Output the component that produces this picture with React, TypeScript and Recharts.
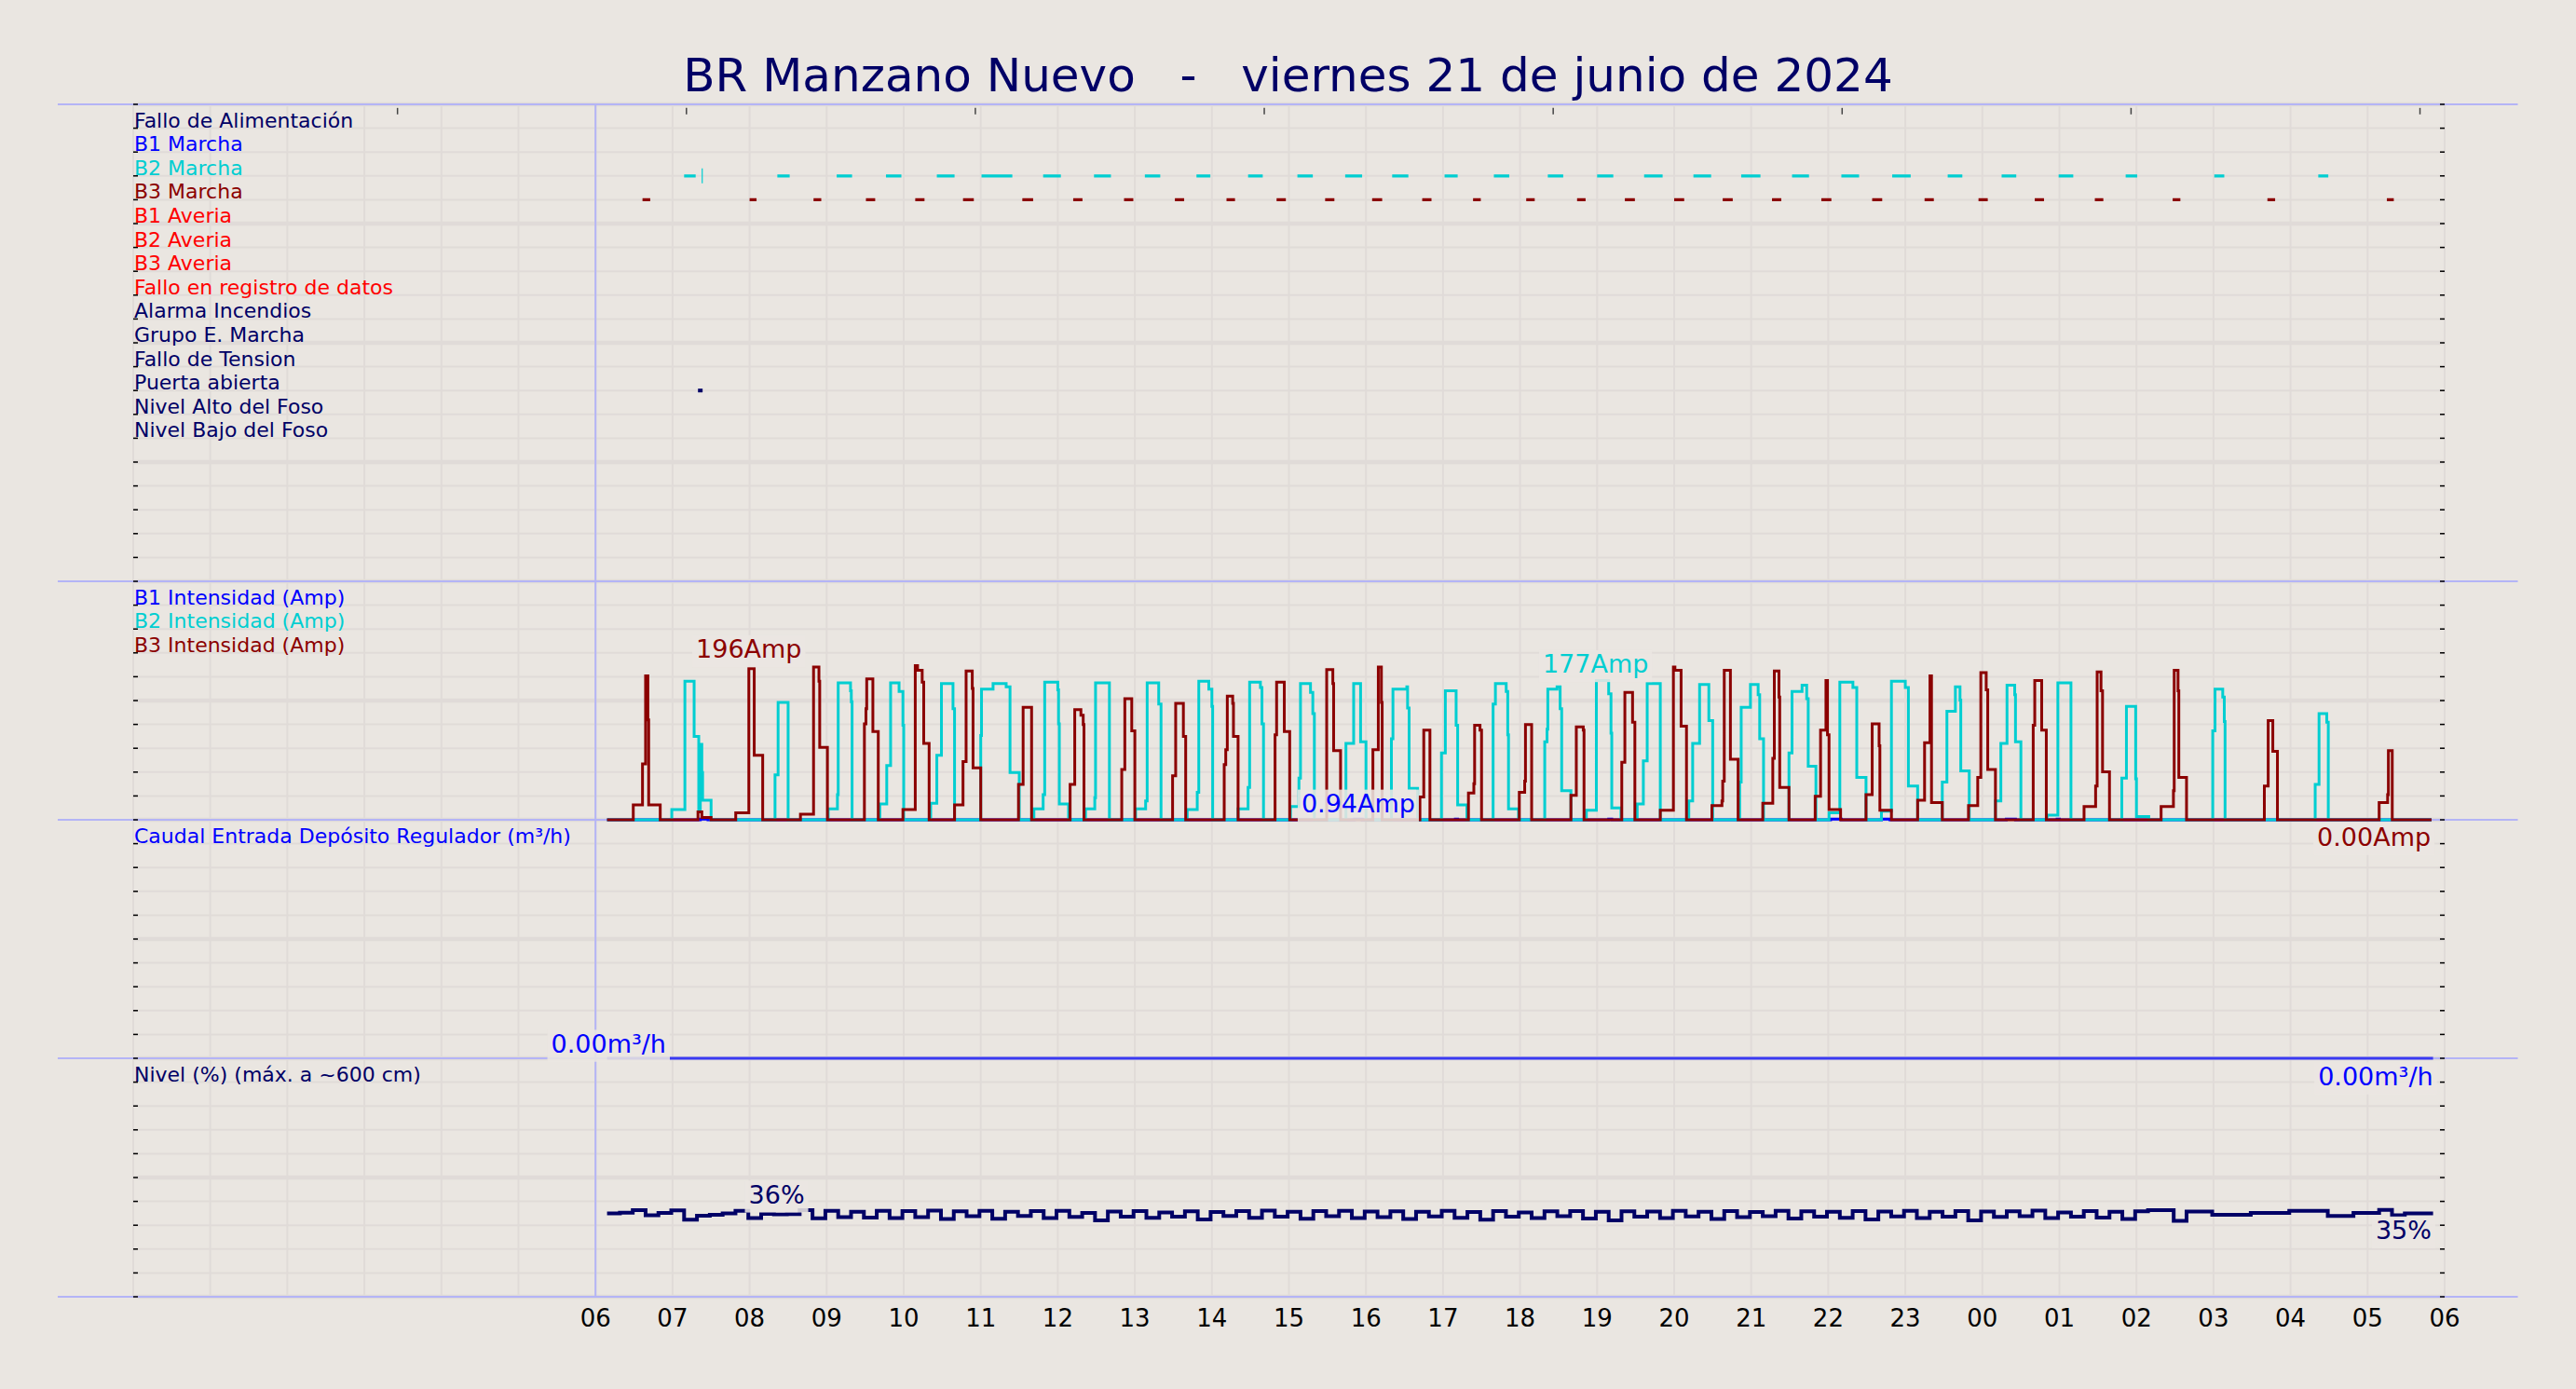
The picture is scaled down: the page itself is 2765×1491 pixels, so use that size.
import React from "react";
import { ComposedChart, Line, XAxis, YAxis, CartesianGrid, ReferenceLine, ReferenceDot } from "recharts";

const W = 2765;
const H = 1491;
const BG = "#eae6e1";
const GRID = "#e0dbd8";
const SEP = "#b4b4f6";
const NAVY = "#000066";
const DARKRED = "#8b0000";
const CYAN = "#00ced1";
const BLUE = "#0000ff";
const RED = "#ff0000";
const FONT = '"DejaVu Sans", sans-serif';

const TITLE = "BR Manzano Nuevo   -   viernes 21 de junio de 2024";

// hours since 00:00 of the day; 30 = 06:00 next day
const hourTicks = [0, 1, 2, 3, 4, 5, 6, 7, 8, 9, 10, 11, 12, 13, 14, 15, 16, 17, 18, 19, 20, 21, 22, 23, 24, 25, 26, 27, 28, 29, 30];
const topTicks = [3.43, 7.18, 10.93, 14.68, 18.43, 22.18, 25.93, 29.68];

const digitalNames = [
  "Fallo de Alimentación",
  "B1 Marcha",
  "B2 Marcha",
  "B3 Marcha",
  "B1 Averia",
  "B2 Averia",
  "B3 Averia",
  "Fallo en registro de datos",
  "Alarma Incendios",
  "Grupo E. Marcha",
  "Fallo de Tension",
  "Puerta abierta",
  "Nivel Alto del Foso",
  "Nivel Bajo del Foso",
];
const digitalColors = [NAVY, BLUE, CYAN, DARKRED, RED, RED, RED, RED, NAVY, NAVY, NAVY, NAVY, NAVY, NAVY];

// on-intervals [start, end] (hours)
const b2Marcha: [number, number][] = [
  [7.15, 7.3], [8.36, 8.52], [9.13, 9.33], [9.77, 9.97], [10.43, 10.66], [11.01, 11.41], [11.81, 12.04],
  [12.47, 12.69], [13.13, 13.33], [13.8, 13.98], [14.47, 14.66], [15.11, 15.31], [15.73, 15.95], [16.34, 16.55],
  [17.02, 17.19], [17.66, 17.86], [18.36, 18.56], [19.0, 19.21], [19.61, 19.85], [20.25, 20.48], [20.87, 21.12],
  [21.53, 21.75], [22.17, 22.4], [22.83, 23.07], [23.55, 23.74], [24.25, 24.44], [24.99, 25.18], [25.86, 26.01],
  [27.01, 27.14], [28.36, 28.49],
];
const b2MarchaBlip = 7.385;
const b3Marcha: [number, number][] = [
  [6.61, 6.71], [8.0, 8.09], [8.83, 8.93], [9.51, 9.63], [10.15, 10.27], [10.77, 10.91], [11.54, 11.68],
  [12.2, 12.32], [12.86, 12.98], [13.52, 13.64], [14.19, 14.3], [14.84, 14.96], [15.47, 15.59], [16.08, 16.21],
  [16.73, 16.85], [17.39, 17.49], [18.08, 18.19], [18.74, 18.85], [19.36, 19.49], [20.0, 20.13], [20.63, 20.76],
  [21.27, 21.39], [21.91, 22.04], [22.57, 22.7], [23.25, 23.37], [23.95, 24.07], [24.68, 24.8], [25.46, 25.57],
  [26.47, 26.57], [27.7, 27.8], [29.25, 29.34],
];
const puertaAbierta: [number, number][] = [[7.33, 7.39]];

const intensityNames = ["B1 Intensidad (Amp)", "B2 Intensidad (Amp)", "B3 Intensidad (Amp)"];

// [hour, amps] step points
const b1Amp: [number, number][] = [
  [6.15, 0], [7.36, 0.9], [7.46, 0], [15.85, 0.94], [15.95, 0], [17.16, 0.9], [17.19, 0], [19.15, 0.9], [19.19, 0],
  [22.03, 0.9], [22.17, 0], [22.69, 0.9], [22.8, 0], [24.31, 0.9], [24.43, 0], [24.97, 0.9], [25.0, 0], [29.83, 0],
];
const b2Amp: [number, number][] = [
  [6.15, 0],
  [6.99, 13], [7.16, 176], [7.28, 106], [7.34, 10], [7.36, 96], [7.38, 60], [7.39, 25], [7.5, 0],
  [8.33, 57], [8.37, 149], [8.5, 0],
  [9.02, 14], [9.14, 32], [9.15, 174], [9.31, 164], [9.32, 150], [9.33, 0],
  [9.69, 20], [9.78, 69], [9.83, 174], [9.94, 163], [9.99, 120], [10.0, 0],
  [10.35, 21], [10.43, 82], [10.49, 173], [10.64, 141], [10.66, 0],
  [11.0, 107], [11.01, 166], [11.16, 173], [11.33, 169], [11.38, 60], [11.5, 0],
  [11.69, 14], [11.81, 32], [11.83, 175], [12.0, 165], [12.01, 122], [12.02, 20], [12.14, 0],
  [12.36, 14], [12.48, 28], [12.49, 174], [12.67, 0],
  [13.01, 14], [13.14, 24], [13.16, 174], [13.31, 147], [13.34, 0],
  [13.68, 13], [13.81, 35], [13.83, 176], [13.96, 166], [14.0, 144], [14.01, 0],
  [14.34, 14], [14.47, 41], [14.49, 175], [14.63, 168], [14.65, 122], [14.67, 0],
  [15.02, 17], [15.13, 53], [15.15, 173], [15.28, 162], [15.31, 135], [15.33, 0],
  [15.74, 97], [15.84, 173], [15.93, 99], [16.0, 0],
  [16.33, 103], [16.35, 166], [16.53, 169], [16.54, 142], [16.56, 40], [16.67, 0],
  [16.98, 85], [17.03, 164], [17.17, 120], [17.19, 19], [17.31, 0],
  [17.65, 147], [17.68, 173], [17.82, 163], [17.84, 108], [17.85, 14], [17.98, 0],
  [18.32, 99], [18.35, 115], [18.36, 166], [18.48, 169], [18.52, 141], [18.54, 37], [18.66, 0],
  [18.86, 12], [18.99, 177], [19.15, 160], [19.18, 110], [19.19, 15], [19.31, 0],
  [19.52, 20], [19.6, 75], [19.65, 173], [19.82, 0],
  [20.19, 24], [20.24, 97], [20.33, 172], [20.45, 126], [20.5, 0],
  [20.85, 48], [20.87, 143], [20.99, 172], [21.09, 159], [21.11, 103], [21.16, 0],
  [21.49, 85], [21.53, 163], [21.66, 171], [21.72, 154], [21.74, 68], [21.84, 0],
  [22.01, 9], [22.15, 175], [22.32, 168], [22.37, 54], [22.49, 0],
  [22.69, 11], [22.82, 176], [23.0, 168], [23.04, 43], [23.16, 0],
  [23.48, 48], [23.54, 138], [23.65, 169], [23.71, 152], [23.72, 62], [23.83, 0],
  [24.17, 24], [24.24, 97], [24.32, 171], [24.42, 159], [24.43, 99], [24.5, 0],
  [24.84, 6], [24.98, 174], [25.15, 0],
  [25.81, 53], [25.87, 144], [25.99, 52], [26.0, 4], [26.16, 0],
  [26.99, 113], [27.02, 166], [27.12, 156], [27.14, 125], [27.15, 0],
  [28.32, 45], [28.37, 135], [28.47, 124], [28.49, 0],
  [29.83, 0],
];
const b3Amp: [number, number][] = [
  [6.15, 0],
  [6.49, 19], [6.61, 71], [6.65, 183], [6.68, 127], [6.69, 19], [6.84, 0],
  [7.33, 10], [7.38, 3], [7.5, 0],
  [7.82, 9], [7.99, 192], [8.06, 82], [8.17, 0],
  [8.66, 7], [8.83, 194], [8.9, 176], [8.91, 92], [9.01, 0],
  [9.49, 122], [9.51, 141], [9.52, 179], [9.6, 112], [9.67, 0],
  [9.99, 13], [10.15, 196], [10.18, 190], [10.24, 175], [10.26, 97], [10.33, 0],
  [10.66, 19], [10.77, 74], [10.81, 189], [10.89, 167], [10.9, 66], [11.0, 0],
  [11.49, 45], [11.55, 143], [11.66, 0],
  [12.16, 45], [12.22, 140], [12.3, 133], [12.33, 121], [12.34, 0],
  [12.83, 64], [12.87, 154], [12.96, 113], [13.0, 0],
  [13.49, 56], [13.53, 148], [13.63, 106], [13.66, 0],
  [14.16, 70], [14.18, 89], [14.2, 157], [14.27, 148], [14.28, 106], [14.34, 0],
  [14.82, 108], [14.84, 175], [14.94, 112], [15.01, 0],
  [15.49, 191], [15.57, 173], [15.58, 88], [15.67, 0],
  [16.09, 89], [16.16, 194], [16.2, 149], [16.21, 0],
  [16.7, 29], [16.75, 114], [16.83, 0],
  [17.33, 34], [17.4, 46], [17.41, 120], [17.48, 114], [17.5, 0],
  [17.99, 35], [18.06, 49], [18.07, 121], [18.15, 0],
  [18.66, 31], [18.73, 118], [18.82, 114], [18.83, 0],
  [19.32, 73], [19.36, 162], [19.46, 124], [19.49, 0],
  [19.82, 12], [19.99, 194], [20.01, 190], [20.09, 119], [20.16, 0],
  [20.49, 18], [20.62, 24], [20.63, 49], [20.65, 190], [20.73, 77], [20.83, 0],
  [21.15, 21], [21.28, 78], [21.3, 189], [21.36, 156], [21.37, 41], [21.49, 0],
  [21.83, 30], [21.9, 114], [21.97, 177], [21.99, 108], [22.01, 13], [22.16, 0],
  [22.49, 32], [22.57, 122], [22.66, 94], [22.67, 12], [22.82, 0],
  [23.16, 25], [23.25, 98], [23.32, 183], [23.34, 22], [23.48, 0],
  [23.82, 18], [23.94, 54], [23.98, 187], [24.05, 165], [24.07, 64], [24.17, 0],
  [24.66, 120], [24.68, 177], [24.77, 114], [24.83, 0],
  [25.32, 17], [25.47, 43], [25.49, 188], [25.54, 164], [25.56, 61], [25.65, 0],
  [26.32, 17], [26.48, 37], [26.49, 190], [26.54, 164], [26.55, 54], [26.65, 0],
  [27.66, 43], [27.71, 126], [27.77, 87], [27.83, 0],
  [29.15, 22], [29.26, 32], [29.27, 88], [29.32, 0],
  [29.83, 0],
];

const caudalName = "Caudal Entrada Depósito Regulador (m³/h)";
const caudal: [number, number][] = [[6.15, 0], [29.85, 0]];

const nivelName = "Nivel (%) (máx. a ~600 cm)";
const nivelStart = 6.15; // first sample, then every 10 min
const nivelPct = [
  35.0, 35.3, 36.3, 34.2, 35.2, 36.2, 32.3, 34.0, 34.4, 35.0, 36.0, 33.0, 34.8, 34.6, 34.7, 36.3, 32.9, 36.0, 33.4,
  35.6, 33.2, 36.0, 33.0, 35.9, 33.4, 36.1, 32.6, 35.8, 33.8,
  36.0, 32.7, 35.6, 33.9, 35.9, 33.0, 36.0, 33.5, 35.2, 32.0,
  35.7, 33.6, 35.9, 33.1, 35.4, 33.6, 35.8, 32.4, 35.5, 33.9,
  35.9, 33.1, 36.1, 33.6, 35.6, 32.7, 35.9, 33.8, 36.0, 33.0,
  35.7, 33.4, 35.8, 32.6, 35.6, 33.7, 36.0, 33.1, 35.5, 32.3,
  35.9, 33.6, 35.4, 33.0, 35.8, 33.8, 35.9, 32.8, 35.6, 32.0,
  35.8, 33.6, 35.7, 33.0, 36.0, 33.7, 35.6, 32.6, 35.9, 33.4,
  35.5, 33.8, 36.0, 32.8, 35.8, 33.6, 35.6, 33.1, 35.9, 32.4,
  35.7, 33.7, 36.0, 33.0, 35.6, 33.6, 35.9, 32.0, 35.7, 33.5,
  35.8, 33.8, 36.1, 33.0, 35.4, 33.6, 35.9, 33.2, 35.6, 32.6,
  35.8, 36.3,
  36.3, 31.8, 35.7, 35.7, 34.4, 34.4, 34.4, 35.2, 35.2, 35.2, 36.0, 36.0, 36.0, 33.9, 33.9, 35.2, 35.2, 36.4, 34.2,
  35.0, 35.0, 35.0,
];
const nivelEnd = 29.85;

// ---- layout: 50 grid rows, panels stacked (rows counted from the top)
const ROWS = 50;
const rowValue = (rowFromTop: number) => ROWS - rowFromTop;
const panelDomain = (bottomRowFromTop: number, perRow: number): [number, number] => {
  const base = ROWS - bottomRowFromTop;
  return [-base * perRow, (ROWS - base) * perRow];
};
const ampDomain = panelDomain(30, 30.3);
const caudalDomain = panelDomain(40, 1);
const nivelDomain = panelDomain(50, 10);
const gridTicks = Array.from({ length: ROWS + 1 }, (_, i) => i);
const thickTicks = [5, 10, 15, 20, 25, 30, 35, 40, 45];
const separatorRows = [0, 20, 30, 40, 50];

const stepPoints = (pairs: [number, number][]) => pairs.map(([t, v]) => ({ t, v }));
const segments = (list: [number, number][], row: number) =>
  list.flatMap(([s, e]) => [
    { t: s, v: rowValue(row) },
    { t: e, v: rowValue(row) },
    { t: e, v: null },
  ]);
const nivelData = [
  ...nivelPct.map((v, i) => ({ t: nivelStart + i / 6, v })),
  { t: nivelEnd, v: nivelPct[nivelPct.length - 1] },
];

let measureCtx: CanvasRenderingContext2D | null = null;
function textWidth(s: string, size: number) {
  if (!measureCtx) measureCtx = document.createElement("canvas").getContext("2d");
  if (!measureCtx) return s.length * size * 0.62;
  measureCtx.font = `${size}px "DejaVu Sans"`;
  return measureCtx.measureText(s).width;
}

type NoteProps = {
  viewBox?: any;
  text: string;
  color: string;
  anchor: "start" | "middle" | "end";
  dx?: number;
  dy: number;
  size: number;
  box?: boolean;
};

function Note({ viewBox, text, color, anchor, dx = 0, dy, size, box }: NoteProps) {
  if (!viewBox) return null;
  const x = viewBox.x + (viewBox.width || 0) / 2 + dx;
  const y = viewBox.y + (viewBox.height || 0) / 2 + dy;
  const w = textWidth(text, size);
  const left = anchor === "middle" ? x - w / 2 : anchor === "end" ? x - w : x;
  return (
    <g>
      {box && (
        <rect x={left - 4} y={y - size * 0.8 - 3} width={w + 8} height={size * 1.05 + 6} fill={BG} fillOpacity={0.88} />
      )}
      <text x={x} y={y} textAnchor={anchor} fill={color} fontSize={size} fontFamily={FONT}>
        {text}
      </text>
    </g>
  );
}

const hourLabel = (h: number) => (h < 6 ? "" : String(h % 24).padStart(2, "0"));

export default function App() {
  const sideLabels = [
    ...digitalNames.map((name, i) => ({ name, color: digitalColors[i], row: i + 1 })),
    ...intensityNames.map((name, i) => ({ name, color: [BLUE, CYAN, DARKRED][i], row: 21 + i })),
    { name: caudalName, color: BLUE, row: 31 },
    { name: nivelName, color: NAVY, row: 41 },
  ];

  const notes = [
    { text: "196Amp", x: 7.99, y: 196, axis: "amp", color: DARKRED, anchor: "middle", dy: -8 },
    { text: "177Amp", x: 18.98, y: 177, axis: "amp", color: CYAN, anchor: "middle", dy: -8 },
    { text: "0.94Amp", x: 15.9, y: 0.94, axis: "amp", color: BLUE, anchor: "middle", dy: -7 },
    { text: "0.00Amp", x: 29.82, y: 0, axis: "amp", color: DARKRED, anchor: "end", dy: 28 },
    { text: "0.00m³/h", x: 6.17, y: 0, axis: "caudal", color: BLUE, anchor: "middle", dy: -6 },
    { text: "0.00m³/h", x: 29.85, y: 0, axis: "caudal", color: BLUE, anchor: "end", dy: 29 },
    { text: "36%", x: 8.35, y: 36, axis: "nivel", color: NAVY, anchor: "middle", dy: -8 },
    { text: "35%", x: 29.83, y: 35, axis: "nivel", color: NAVY, anchor: "end", dy: 28 },
  ] as const;

  return (
    <div style={{ position: "absolute", left: 0, top: 0, width: W, height: H, background: BG, overflow: "hidden" }}>
      <svg width={W} height={110} style={{ position: "absolute", left: 0, top: 0 }}>
        <text x={W / 2} y={97.5} textAnchor="middle" fontSize={50} fill={NAVY} fontFamily={FONT} xmlSpace="preserve" style={{ whiteSpace: "pre" }}>
          {TITLE}
        </text>
      </svg>
      <div style={{ position: "absolute", left: 0, top: 0 }}>
        <ComposedChart width={W} height={H} margin={{ top: 112, right: 141, bottom: 59, left: 143 }}>
          <XAxis
            type="number"
            dataKey="t"
            domain={[0, 30]}
            ticks={hourTicks}
            interval={0}
            tickFormatter={hourLabel}
            axisLine={false}
            tickLine={false}
            tickSize={6}
            tickMargin={8}
            height={40}
            allowDataOverflow
            tick={{ fill: "#000", fontSize: 26, fontFamily: FONT }}
          />
          <YAxis
            yAxisId="grid"
            type="number"
            domain={[0, ROWS]}
            ticks={gridTicks}
            interval={0}
            mirror
            allowDataOverflow
            axisLine={false}
            tickSize={5}
            tickFormatter={() => ""}
            tickLine={{ stroke: "#000", strokeWidth: 1.5 }}
          />
          <YAxis
            yAxisId="gridR"
            orientation="right"
            type="number"
            domain={[0, ROWS]}
            ticks={gridTicks}
            interval={0}
            mirror
            allowDataOverflow
            axisLine={false}
            tickSize={5}
            tickFormatter={() => ""}
            tickLine={{ stroke: "#000", strokeWidth: 1.5 }}
          />
          <YAxis yAxisId="thick" type="number" domain={[0, ROWS]} ticks={thickTicks} interval={0} hide allowDataOverflow />
          <YAxis yAxisId="amp" type="number" domain={ampDomain} hide allowDataOverflow />
          <YAxis yAxisId="caudal" type="number" domain={caudalDomain} hide allowDataOverflow />
          <YAxis yAxisId="nivel" type="number" domain={nivelDomain} hide allowDataOverflow />

          <CartesianGrid yAxisId="grid" stroke={GRID} strokeWidth={2} />
          <CartesianGrid yAxisId="thick" vertical={false} stroke={GRID} strokeWidth={4.5} />

          {separatorRows.map((r) => (
            <ReferenceLine
              key={"sep" + r}
              yAxisId="grid"
              ifOverflow="visible"
              segment={[
                { x: -0.98, y: rowValue(r) },
                { x: 30.95, y: rowValue(r) },
              ]}
              stroke={SEP}
              strokeWidth={2}
            />
          ))}
          <ReferenceLine yAxisId="grid" x={6} stroke={SEP} strokeWidth={2} />
          {topTicks.map((t) => (
            <ReferenceLine
              key={"tt" + t}
              yAxisId="grid"
              segment={[
                { x: t, y: rowValue(0.15) },
                { x: t, y: rowValue(0.42) },
              ]}
              stroke="#444"
              strokeWidth={1.5}
            />
          ))}
          <ReferenceLine
            yAxisId="grid"
            segment={[
              { x: b2MarchaBlip, y: rowValue(3) + 0.31 },
              { x: b2MarchaBlip, y: rowValue(3) - 0.31 },
            ]}
            stroke={CYAN}
            strokeWidth={1.2}
          />

          <Line yAxisId="grid" data={segments(b2Marcha, 3)} dataKey="v" type="linear" stroke={CYAN} strokeWidth={3.3} dot={false} activeDot={false} isAnimationActive={false} />
          <Line yAxisId="grid" data={segments(b3Marcha, 4)} dataKey="v" type="linear" stroke={DARKRED} strokeWidth={3.3} dot={false} activeDot={false} isAnimationActive={false} />
          <Line yAxisId="grid" data={segments(puertaAbierta, 12)} dataKey="v" type="linear" stroke={NAVY} strokeWidth={4} dot={false} activeDot={false} isAnimationActive={false} />

          <Line yAxisId="amp" data={stepPoints(b1Amp)} dataKey="v" type="stepAfter" stroke={BLUE} strokeWidth={3} dot={false} activeDot={false} isAnimationActive={false} />
          <Line yAxisId="amp" data={stepPoints(b2Amp)} dataKey="v" type="stepAfter" stroke={CYAN} strokeWidth={3} dot={false} activeDot={false} isAnimationActive={false} />
          <Line yAxisId="amp" data={stepPoints(b3Amp)} dataKey="v" type="stepAfter" stroke={DARKRED} strokeWidth={3} dot={false} activeDot={false} isAnimationActive={false} />
          <Line yAxisId="caudal" data={stepPoints(caudal)} dataKey="v" type="stepAfter" stroke="#3a3af2" strokeWidth={3} dot={false} activeDot={false} isAnimationActive={false} />
          <Line yAxisId="nivel" data={nivelData} dataKey="v" type="stepAfter" stroke={NAVY} strokeWidth={4} dot={false} activeDot={false} isAnimationActive={false} />

          {sideLabels.map((l) => (
            <ReferenceDot
              key={l.name}
              yAxisId="grid"
              x={0}
              y={rowValue(l.row)}
              r={0}
              fill="none"
              stroke="none"
              label={(p: any) => <Note viewBox={p.viewBox} text={l.name} color={l.color} anchor="start" dx={1} dy={-1} size={22} />}
            />
          ))}
          {notes.map((n) => (
            <ReferenceDot
              key={n.text + n.x}
              yAxisId={n.axis}
              x={n.x}
              y={n.y}
              r={0}
              fill="none"
              stroke="none"
              ifOverflow="visible"
              label={(p: any) => <Note viewBox={p.viewBox} text={n.text} color={n.color} anchor={n.anchor} dy={n.dy} size={27} box />}
            />
          ))}
        </ComposedChart>
      </div>
    </div>
  );
}
